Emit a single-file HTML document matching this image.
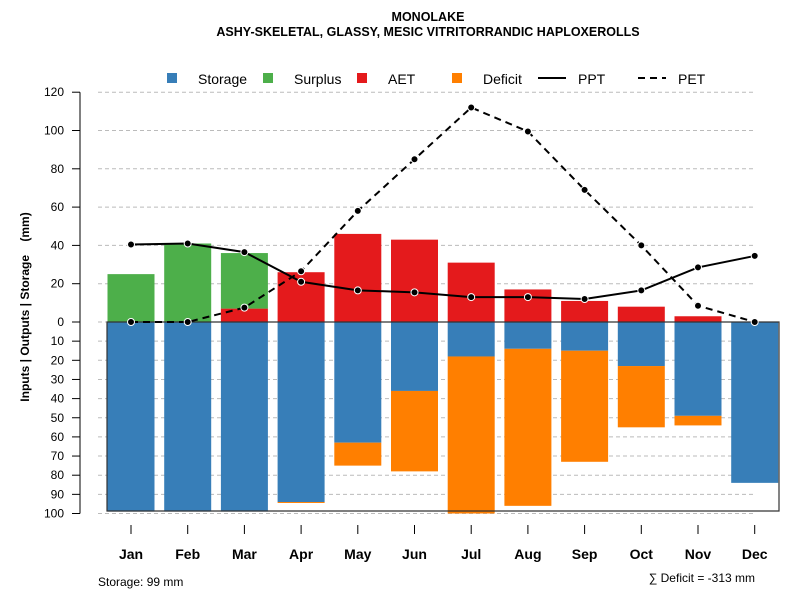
<!DOCTYPE html>
<html><head><meta charset="utf-8"><style>
body{margin:0;background:#fff;}
svg{display:block;font-family:"Liberation Sans",Arial,sans-serif;}
</style></head><body>
<svg id="chart" width="800" height="600">
<text x="428" y="21" text-anchor="middle" font-size="12.5" font-weight="bold">MONOLAKE</text>
<text x="428" y="36" text-anchor="middle" font-size="12.5" font-weight="bold">ASHY-SKELETAL, GLASSY, MESIC VITRITORRANDIC HAPLOXEROLLS</text>
<text transform="translate(29,307) rotate(-90)" text-anchor="middle" font-size="12" font-weight="bold">Inputs | Outputs | Storage&#160;&#160;&#160;&#160;(mm)</text>
<text x="98" y="586" font-size="12">Storage: 99 mm</text>
<text x="755" y="582" text-anchor="end" font-size="12">∑ Deficit = -313 mm</text>
<g id="grid"></g><g id="bars"></g><g id="lines"></g><g id="axes"></g><g id="legend"></g>
</svg>
<script>
const months=["Jan","Feb","Mar","Apr","May","Jun","Jul","Aug","Sep","Oct","Nov","Dec"];
const storage=[99,99,99,94,63,36,18,14,15,23,49,84];
const deficit=[0,0,0,0.5,12,42,82,82,58,32,5,0];
const aet=[0,0,7,26,46,43,31,17,11,8,3,0];
const surplus=[25,41,29,0,0,0,0,0,0,0,0,0];
const ppt=[40.5,41,36.5,21,16.5,15.5,13,13,12,16.5,28.5,34.5];
const pet=[0,0,7.5,26.5,58,85,112,99.5,69,40,8.5,0];
const upTicks=[0,20,40,60,80,100,120];
const downTicks=[10,20,30,40,50,60,70,80,90,100];
const NS="http://www.w3.org/2000/svg";
const Y0=322,K=1.915;
const yUp=v=>Y0-v*K, yDn=v=>Y0+v*K;
const xC=i=>131+i*56.7, BW=47;
function mk(p,t,a){const e=document.createElementNS(NS,t);for(const k in a)e.setAttribute(k,a[k]);document.getElementById(p).appendChild(e);return e;}
upTicks.concat(downTicks.map(d=>-d)).forEach(v=>{
 const y=v>=0?yUp(v):yDn(-v);
 const g=mk("grid","line",{x1:98,x2:755,y1:y,y2:y,stroke:"#bbb","stroke-dasharray":"4,3"});
 
 
});
const C={st:"#377eb8",de:"#ff7f00",ae:"#e41a1c",su:"#4daf4a"};
months.forEach((m,i)=>{
 const x=xC(i)-BW/2;
 let r=mk("bars","rect",{x:x,y:Y0,width:BW,height:storage[i]*K,fill:C.st});
 
 
 if(deficit[i]>0){r=mk("bars","rect",{x:x,y:yDn(storage[i]),width:BW,height:deficit[i]*K,fill:C.de});
 
 }
 if(aet[i]>0){r=mk("bars","rect",{x:x,y:yUp(aet[i]),width:BW,height:aet[i]*K,fill:C.ae});
 
 }
 if(surplus[i]>0){r=mk("bars","rect",{x:x,y:yUp(aet[i]+surplus[i]),width:BW,height:surplus[i]*K,fill:C.su});
 
 }
});
let bx=mk("bars","path",{d:`M107,${Y0} V511 H779 V${Y0} Z`,fill:"none",stroke:"#333","stroke-width":1.2});


function series(arr,name,dash){
 const p=mk("lines","polyline",{points:arr.map((v,i)=>xC(i)+","+yUp(v)).join(" "),fill:"none",stroke:"#000","stroke-width":2,"stroke-dasharray":dash});
 
 
 arr.forEach((v,i)=>{const c=mk("lines","circle",{cx:xC(i),cy:yUp(v),r:3.5,fill:"#000",stroke:"#fff","stroke-width":1});
 
 });
}
series(pet,"pet","7,5");
series(ppt,"ppt","none");
let ax=mk("axes","line",{x1:80,x2:80,y1:yUp(120),y2:yDn(100),stroke:"#000"});


function ytick(v,y){
 const t=mk("axes","line",{x1:72,x2:80,y1:y,y2:y,stroke:"#000"});
 
 
 const l=mk("axes","text",{x:64,y:y+4,"text-anchor":"end","font-size":12});
 l.textContent=v;
 
 
}
upTicks.forEach(v=>ytick(v,yUp(v)));
downTicks.forEach(v=>ytick(v,yDn(v)));
months.forEach((m,i)=>{
 const t=mk("axes","line",{x1:xC(i),x2:xC(i),y1:525,y2:534,stroke:"#000"});
 
 
 const l=mk("axes","text",{x:xC(i),y:559,"text-anchor":"middle","font-size":14,"font-weight":"bold"});
 l.textContent=m;
 
 
});
const legItems=[["Storage",C.st,172,"sw"],["Surplus",C.su,268,"sw"],["AET",C.ae,362,"sw"],["Deficit",C.de,457,"sw"],["PPT","#000",540,"ln"],["PET","#000",640,"dl"]];
legItems.forEach(([n,c,x,t])=>{
 let s;
 if(t==="sw") s=mk("legend","rect",{x:x-5,y:73,width:10,height:10,fill:c});
 else s=mk("legend","line",{x1:x-2,x2:x+26,y1:78,y2:78,stroke:"#000","stroke-width":2,"stroke-dasharray":t==="dl"?"7,5":"none"});
 
 
 const l=mk("legend","text",{x:t==="sw"?x+26:x+38,y:84,"font-size":14});
 l.textContent=n;
 
 
});
</script>
</body></html>
